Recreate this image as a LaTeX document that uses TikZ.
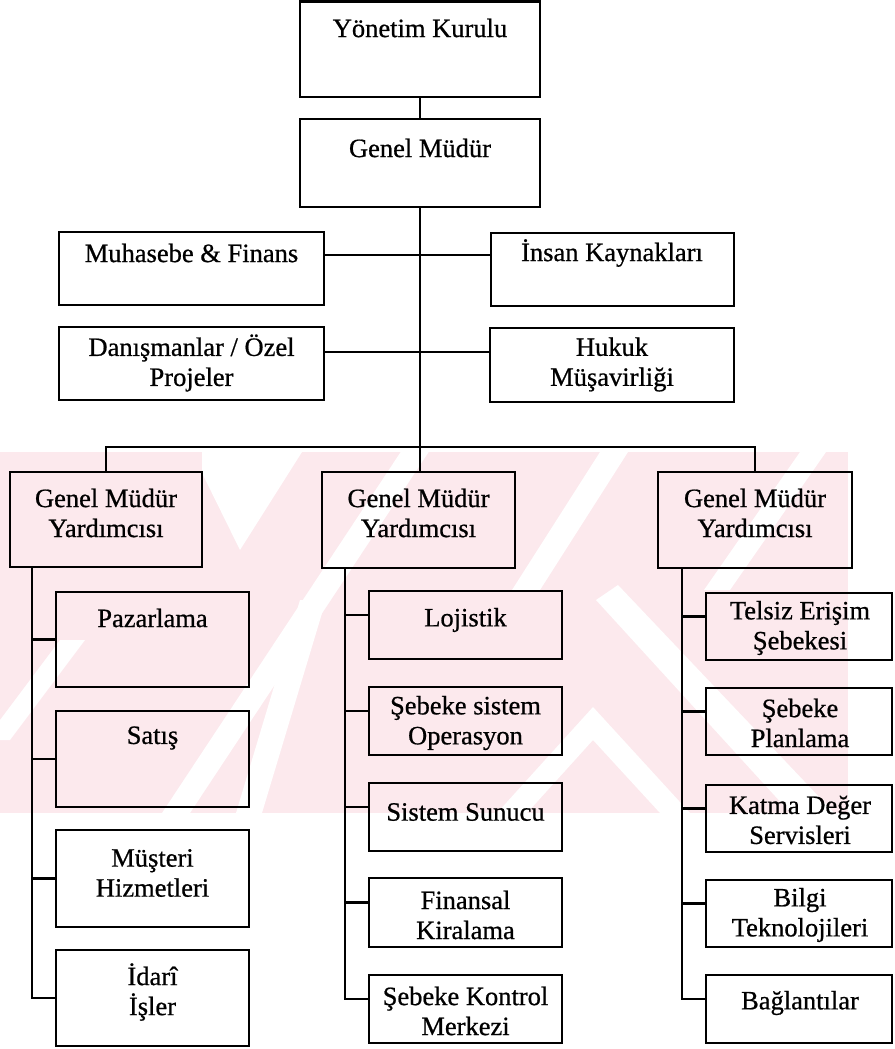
\documentclass[tikz,border=0pt]{standalone}
\usepackage{fontspec}
\setmainfont{Liberation Serif}[FakeBold=0.7]
\usetikzlibrary{calc}
\definecolor{wmpink}{RGB}{252,233,237}
\tikzset{
  box/.style={draw=black, line width=2.2pt, inner sep=0pt, outer sep=0pt, anchor=north west},
  lbl/.style={font=\fontsize{26.5}{30}\selectfont, align=center, inner sep=0pt},
  wire/.style={line width=2.2pt},
}
% \orgbox{name}{x1}{y1}{x2}{y2}: an empty framed box between two corners
\newcommand{\orgbox}[5]{%
  \path (#2,#3) node[box, minimum width={(#4)-(#2)}, minimum height={(#5)-(#3)}] (#1) {};}
\begin{document}
\begin{tikzpicture}[x=1pt, y=-1pt]
\useasboundingbox (0,0) rectangle (894,1049);

% background watermark band
\fill[wmpink] (0,452) rectangle (848,813);
\begin{scope}
  \clip (0,452) rectangle (848,813);
  \fill[white] (202,452) -- (302,452) -- (240,550) -- (202,473) -- cycle;
  \fill[white] (402,450) -- (430,450) -- (190,813) -- (162,813) -- cycle;
  \fill[white] (300,600) -- (326,600) -- (262,813) -- (236,813) -- cycle;
  \fill[white] (60,640) -- (85,640) -- (10,740) -- (-15,740) -- cycle;
  \fill[white] (600,452) -- (628,452) -- (540,590) -- (512,590) -- cycle;
  \fill[white] (497,813) -- (593,707) -- (690,813) -- (660,813) -- (593,740) -- (527,813) -- cycle;
  \fill[white] (596,600) -- (618,585) -- (860,840) -- (838,865) -- cycle;
  \fill[white] (800,452) -- (826,452) -- (730,590) -- (704,590) -- cycle;
\end{scope}

% boxes
\orgbox{yk}{300}{1.5}{540}{97}
\orgbox{gm}{300}{119}{540}{207}
\orgbox{muh}{59}{232}{324}{305}
\orgbox{ik}{491}{233}{734}{306}
\orgbox{dan}{59}{327}{324}{400}
\orgbox{huk}{490}{328}{734}{402}
\orgbox{gmyA}{10}{472}{202}{567}
\orgbox{gmyB}{322}{472}{515}{568}
\orgbox{gmyC}{658}{472}{852}{568}
\orgbox{paz}{56}{592}{249}{687}
\orgbox{sat}{56}{711}{249}{807}
\orgbox{mus}{56}{830}{249}{927}
\orgbox{ida}{56}{950}{249}{1046}
\orgbox{loj}{369}{591}{562}{659}
\orgbox{seb}{369}{687}{562}{755}
\orgbox{sis}{369}{783}{562}{851}
\orgbox{fin}{369}{878}{562}{947}
\orgbox{skm}{369}{975}{562}{1043}
\orgbox{tel}{706}{593}{892}{660}
\orgbox{pla}{706}{688}{892}{755}
\orgbox{kat}{706}{785}{892}{852}
\orgbox{bil}{706}{880}{892}{947}
\orgbox{bag}{706}{975}{892}{1043}

% labels
\node[lbl] (ykT)   at (420,28)    {Yönetim Kurulu};
\node[lbl] (gmT)   at (420,148)   {Genel Müdür};
\node[lbl] (muhT)  at (191.5,253) {Muhasebe \& Finans};
\node[lbl] (ikT)   at (612,253)   {İnsan Kaynakları};
\node[lbl] (danT)  at (191.5,363) {Danışmanlar / Özel\\Projeler};
\node[lbl] (hukT)  at (612,364.5) {Hukuk\\Müşavirliği};
\node[lbl] (gmyAT) at (106,513)   {Genel Müdür\\Yardımcısı};
\node[lbl] (gmyBT) at (418.5,513) {Genel Müdür\\Yardımcısı};
\node[lbl] (gmyCT) at (755,513)   {Genel Müdür\\Yardımcısı};
\node[lbl] (pazT)  at (152.5,618) {Pazarlama};
\node[lbl] (satT)  at (152.5,738) {Satış};
\node[lbl] (musT)  at (152.5,873) {Müşteri\\Hizmetleri};
\node[lbl] (idaT)  at (152.5,992) {İdarî\\İşler};
\node[lbl] (lojT)  at (465.5,620) {Lojistik};
\node[lbl] (sebT)  at (465.5,723) {Şebeke sistem\\Operasyon};
\node[lbl] (sisT)  at (465.5,812) {Sistem Sunucu};
\node[lbl] (finT)  at (465.5,915) {Finansal\\Kiralama};
\node[lbl] (skmT)  at (465.5,1011) {Şebeke Kontrol\\Merkezi};
\node[lbl] (telT)  at (800,628)   {Telsiz Erişim\\Şebekesi};
\node[lbl] (plaT)  at (800,723)   {Şebeke\\Planlama};
\node[lbl] (katT)  at (800,820)   {Katma Değer\\Servisleri};
\node[lbl] (bilT)  at (800,915)   {Bilgi\\Teknolojileri};
\node[lbl] (bagT)  at (800,1003)  {Bağlantılar};

% top of the chart
\coordinate (bus) at (420,447);
\draw[wire] (yk.south) -- (gm.north);
\draw[wire] (gm.south) -- (bus);
\draw[wire] ([yshift=13.5pt]muh.east) coordinate (tA) -- (tA -| ik.west);
\draw[wire] ([yshift=11.5pt]dan.east) coordinate (tB) -- (tB -| huk.west);

% branch to the three deputies
\draw[wire] (gmyA.north) |- (bus) -| (gmyC.north);
\draw[wire] (bus) -- (bus |- gmyB.north);

% left column
\coordinate (lA) at ([xshift=22pt]gmyA.south west);
\draw[wire] (lA) |- (ida.west);
\foreach \n in {paz,sat,mus}
  \draw[wire] (\n.west) -- (\n.west -| lA);

% middle column
\coordinate (lB) at ([xshift=23pt]gmyB.south west);
\draw[wire] (lB) |- ([yshift=10pt]skm.west);
\foreach \n in {loj,seb,sis,fin}
  \draw[wire] ([yshift=10pt]\n.west) coordinate (t) -- (t -| lB);

% right column
\coordinate (lC) at ([xshift=24pt]gmyC.south west);
\draw[wire] (lC) |- ([yshift=10pt]bag.west);
\foreach \n in {tel,pla,kat,bil}
  \draw[wire] ([yshift=10pt]\n.west) coordinate (t) -- (t -| lC);
\end{tikzpicture}
\end{document}
